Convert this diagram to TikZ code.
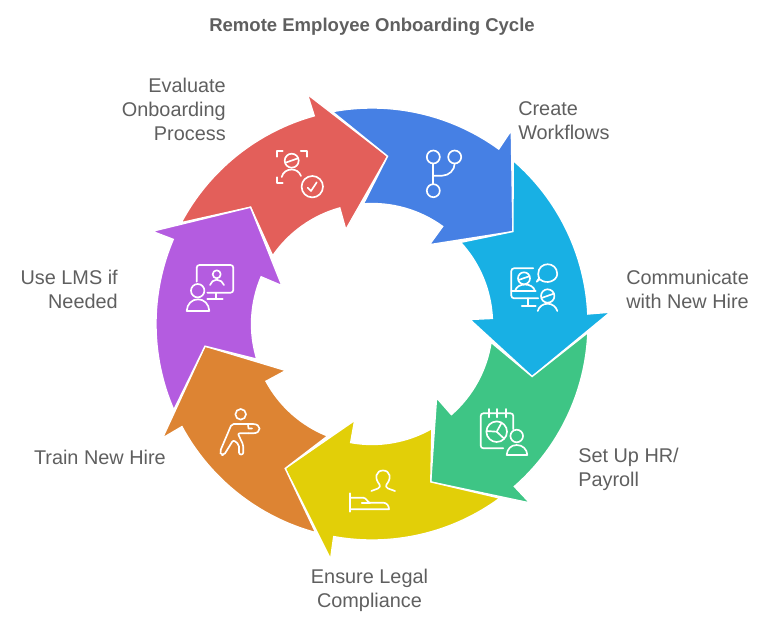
\documentclass[tikz,border=0pt]{standalone}
\usepackage{fontspec}
\setmainfont{Liberation Sans}
\definecolor{evalred}{HTML}{E35F5A}
\definecolor{flowblue}{HTML}{4680E4}
\definecolor{commcyan}{HTML}{18B0E4}
\definecolor{hrgreen}{HTML}{3EC585}
\definecolor{legalyellow}{HTML}{E2CF08}
\definecolor{trainorange}{HTML}{DD8433}
\definecolor{lmspurple}{HTML}{B45CE0}
\definecolor{labelgrey}{HTML}{5F5F5F}
\tikzset{
  cyclearrow/.style={draw=white, line width=1pt, line join=miter},
  iconline/.style={draw=white, line width=1.25pt, line cap=round, line join=round},
  cyclelabel/.style={text=labelgrey, font=\fontsize{14.9}{18}\selectfont, inner sep=0pt},
}
\begin{document}
\begin{tikzpicture}[x=0.75pt, y=-0.75pt]
    \useasboundingbox (0,0) rectangle (780,624);

    % Title
    \node[cyclelabel, font=\fontsize{13.9}{18}\selectfont\bfseries] (title) at (372,26.5) {Remote Employee Onboarding Cycle};

    % The seven arrows, angles measured round the centre of the ring
    \begin{scope}[shift={(372,324)}, y=0.75pt]
        % Evaluate
        \fill[cyclearrow, fill=evalred] (152:216) arc[start angle=152, end angle=105.5, radius=216]
            -- (105.7:238.5) -- (84.7:168.5) -- (105.5:98) -- (105.5:120.5)
            arc[start angle=105.5, end angle=145.5, radius=120.5] -- (136.1:168.5) -- cycle;
        % Workflows
        \fill[cyclearrow, fill=flowblue] (100.57:216) arc[start angle=100.57, end angle=54.07, radius=216]
            -- (54.27:238.5) -- (33.27:168.5) -- (54.07:98) -- (54.07:120.5)
            arc[start angle=54.07, end angle=94.07, radius=120.5] -- (84.7:168.5) -- cycle;
        % Communicate
        \fill[cyclearrow, fill=commcyan] (49.14:216) arc[start angle=49.14, end angle=2.64, radius=216]
            -- (2.84:238.5) -- (-18.16:168.5) -- (2.64:98) -- (2.64:120.5)
            arc[start angle=2.64, end angle=42.64, radius=120.5] -- (33.27:168.5) -- cycle;
        % HR and payroll
        \fill[cyclearrow, fill=hrgreen] (-2.29:216) arc[start angle=-2.29, end angle=-48.79, radius=216]
            -- (-48.59:238.5) -- (-69.59:168.5) -- (-48.79:98) -- (-48.79:120.5)
            arc[start angle=-48.79, end angle=-8.79, radius=120.5] -- (-18.16:168.5) -- cycle;
        % Legal
        \fill[cyclearrow, fill=legalyellow] (-53.71:216) arc[start angle=-53.71, end angle=-100.21, radius=216]
            -- (-100.01:238.5) -- (-121.01:168.5) -- (-100.21:98) -- (-100.21:120.5)
            arc[start angle=-100.21, end angle=-60.21, radius=120.5] -- (-69.59:168.5) -- cycle;
        % Training
        \fill[cyclearrow, fill=trainorange] (-105.14:216) arc[start angle=-105.14, end angle=-151.64, radius=216]
            -- (-151.44:238.5) -- (-172.44:168.5) -- (-151.64:98) -- (-151.64:120.5)
            arc[start angle=-151.64, end angle=-111.64, radius=120.5] -- (-121.01:168.5) -- cycle;
        % LMS
        \fill[cyclearrow, fill=lmspurple] (-156.57:216) arc[start angle=-156.57, end angle=-203.07, radius=216]
            -- (-202.87:238.5) -- (-223.87:168.5) -- (-203.07:98) -- (-203.07:120.5)
            arc[start angle=-203.07, end angle=-163.07, radius=120.5] -- (-172.44:168.5) -- cycle;
    \end{scope}

    % Labels
    \node[cyclelabel, anchor=east, align=right] (evaluate) at (226,109) {Evaluate\\Onboarding\\Process};
    \node[cyclelabel, anchor=west, align=left] (workflows) at (518,121) {Create\\Workflows};
    \node[cyclelabel, anchor=west, align=left] (communicate) at (626,289) {Communicate\\with New Hire};
    \node[cyclelabel, anchor=west, align=left] (payroll) at (578,469) {Set Up HR/\\Payroll};
    \node[cyclelabel, align=center] (legal) at (369.5,590) {Ensure Legal\\Compliance};
    \node[cyclelabel, anchor=east] (train) at (166,457) {Train New Hire};
    \node[cyclelabel, anchor=east, align=right] (lms) at (118,289) {Use LMS if\\Needed};

    % Evaluate icon
    \draw[iconline] (276.7,156.7) -- (276.7,151) -- (282.7,151);
    \draw[iconline] (300.7,151) -- (306.7,151) -- (306.7,156.7);
    \draw[iconline] (276.7,177.3) -- (276.7,182.7) -- (282.7,182.7);
    \draw[iconline] (291.7,160.7) circle[radius=7];
    \draw[iconline] (285.5,162.7) -- (298,158.3);
    \draw[iconline] (281.7,177) .. controls (283,172) and (287,169.5) .. (291.7,169.5) .. controls (296,169.5) and (299.5,172) .. (301,176);
    \draw[iconline] (312.3,186.7) circle[radius=10.7];
    \draw[iconline] (307.7,187.7) -- (311,191) -- (316.7,182.3);

    % Workflow icon
    \draw[iconline] (433.3,157) circle[radius=6.5];
    \draw[iconline] (454.7,157) circle[radius=6.5];
    \draw[iconline] (433.3,190.7) circle[radius=6.5];
    \draw[iconline] (433.3,163.5) -- (433.3,184.2);
    \draw[iconline] (433.3,175.7) -- (442,175.7) .. controls (449,175.7) and (454.7,170) .. (454.7,163.5);

    % Communicate icon
    \draw[iconline, rounded corners=2pt] (533.3,268.3) -- (511.3,268.3) -- (511.3,298.3) -- (538.3,298.3);
    \draw[iconline] (528.3,298.3) -- (528.3,305.7);
    \draw[iconline] (521.7,305.7) -- (535.7,305.7);
    \draw[iconline] (524,278.3) circle[radius=6];
    \draw[iconline] (518.5,280) -- (529.5,276.2);
    \draw[iconline] (511.3,291) -- (535.7,291);
    \draw[iconline] (515,291) .. controls (516,287) and (520,284.5) .. (525,284.5) .. controls (530,284.5) and (534,287) .. (535,291);
    \draw[iconline] (536.7,281.7) -- (539.8,279.2) .. controls (546,285) and (557.2,281) .. (557.2,274) .. controls (557.2,261) and (538.2,261) .. (538.2,274) .. controls (538.2,276) and (538.8,277.5) .. (539.2,278) -- cycle;
    \draw[iconline] (547.7,296) circle[radius=6.7];
    \draw[iconline] (541.5,298) -- (553.7,293.7);
    \draw[iconline] (537.7,311) .. controls (539,306.5) and (543,303.7) .. (547.7,303.7) .. controls (552,303.7) and (556,306.5) .. (557.3,311);

    % Payroll icon
    \draw[iconline, rounded corners=2pt] (513.3,429.3) -- (513.3,413.3) -- (480.7,413.3) -- (480.7,448.3) -- (503.3,448.3);
    \draw[iconline] (489,409) -- (489,417.3);
    \draw[iconline] (497.3,409) -- (497.3,417.3);
    \draw[iconline] (505.7,409) -- (505.7,417.3);
    \draw[iconline] (496.7,431.7) circle[radius=10.3];
    \draw[iconline] (486.4,431) -- (496.7,431.7) -- (501.5,423);
    \draw[iconline] (496.7,431.7) -- (504,438.5);
    \draw[iconline] (516.7,436) circle[radius=6.3];
    \draw[iconline] (506.7,455) .. controls (507,449) and (511,445) .. (516.7,445) .. controls (522.5,445) and (527,449) .. (527.3,455) -- cycle;

    % Legal icon
    \draw[iconline] (371.3,491) -- (378,488.5) .. controls (380,487.5) and (380.5,486) .. (379.5,484.5) .. controls (374,478) and (376,470.5) .. (383,470.5) .. controls (390,470.5) and (392,478) .. (386.5,484.5) .. controls (385.5,486) and (386,487.5) .. (388,488.5) -- (395,491);
    \draw[iconline] (350.3,493.3) -- (350.3,511.7);
    \draw[iconline] (350.3,497.7) -- (363.3,497.7) .. controls (366.5,497.7) and (367.5,502.7) .. (370,502.7) -- (383.3,502.7) .. controls (386.5,502.7) and (389,505.5) .. (389,509.3) -- (350.3,509.3);
    \draw[iconline] (361.7,502.7) -- (370,502.7);

    % Training icon
    \draw[iconline] (240.7,414.3) circle[radius=5.3];
    \draw[iconline, rounded corners=1.5pt] (246.7,424) -- (231.7,424) -- (220,451.5) -- (221,455) -- (224,455) -- (233.3,440) -- (239,444.5) -- (239,454.5) -- (243.3,454.5) -- (243.3,445) -- (237.7,433.3) -- (248.3,433.3);
    \draw[iconline] (246.7,424) -- (253,424) .. controls (261.5,424) and (262,433.3) .. (253,433.3) -- (248.3,433.3);
    \draw[iconline] (248,424.5) -- (248.5,428.5) -- (252,428.5);

    % LMS icon
    \draw[iconline, rounded corners=2pt] (196.7,281.7) -- (196.7,265) -- (233.3,265) -- (233.3,292.7) -- (207.3,292.7);
    \draw[iconline] (215.7,292.7) -- (215.7,299);
    \draw[iconline] (207.3,299) -- (222.7,299);
    \draw[iconline] (216.7,274.3) circle[radius=4];
    \draw[iconline] (210,285) .. controls (211,282) and (213.5,279.7) .. (216.7,279.7) .. controls (220,279.7) and (223,282) .. (224,285);
    \draw[iconline] (197.7,290.7) circle[radius=6.7];
    \draw[iconline] (186.7,311) .. controls (187,304) and (192,299.3) .. (198,299.3) .. controls (204,299.3) and (209,304) .. (209.3,311) -- cycle;
\end{tikzpicture}
\end{document}
